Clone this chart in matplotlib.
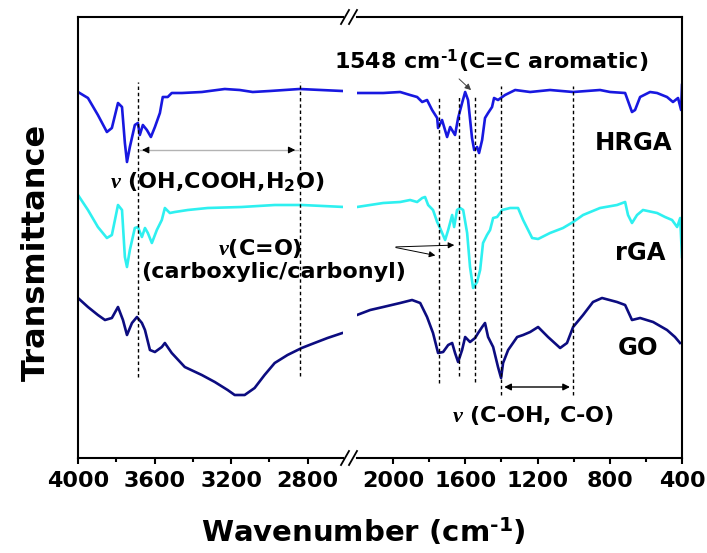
import matplotlib
matplotlib.use("Agg")
import matplotlib.pyplot as plt
from matplotlib.lines import Line2D

plt.rcParams['font.family'] = ['DejaVu Sans']
plt.rcParams['font.weight'] = 'bold'
plt.rcParams['mathtext.fontset'] = 'custom'
plt.rcParams['mathtext.rm'] = 'DejaVu Sans:bold'
plt.rcParams['mathtext.bf'] = 'DejaVu Sans:bold'
plt.rcParams['mathtext.it'] = 'Liberation Serif:italic'

# FTIR spectra (transmittance, arbitrary offset units)
hrga_wn = [4000, 3948, 3896, 3849, 3823, 3791, 3770, 3755, 3744, 3729, 3703, 3687, 3677, 3661, 3640,
           3619, 3598, 3572, 3557, 3531, 3510, 3457, 3353, 3233, 3155, 3087, 2998, 2842, 2618,
           2200, 2055, 1961, 1906, 1867, 1839, 1812, 1784, 1756, 1751, 1729, 1701, 1684, 1657, 1640,
           1618, 1601, 1585, 1563, 1551, 1535, 1524, 1507, 1491, 1474, 1452, 1441, 1419, 1380, 1324,
           1241, 1131, 1003, 854, 798, 715, 677, 660, 632, 577, 538, 483, 450, 422, 405, 400]
hrga_t = [366, 360, 343, 326, 330, 355, 351, 315, 296, 311, 333, 335, 323, 333, 328,
          321, 331, 345, 361, 361, 365, 365, 366, 369, 368, 366, 367, 369, 367,
          365, 365, 366, 363, 361, 356, 358, 348, 340, 330, 338, 321, 331, 323, 340,
          355, 366, 358, 320, 308, 311, 305, 318, 340, 345, 351, 360, 358, 363, 368,
          366, 368, 366, 368, 366, 365, 346, 348, 361, 366, 365, 361, 356, 360, 348, 373]

rga_wn = [4000, 3948, 3896, 3849, 3823, 3791, 3770, 3755, 3744, 3729, 3703, 3687, 3666, 3650, 3635,
          3614, 3588, 3562, 3546, 3520, 3494, 3426, 3322, 3145, 2972, 2831, 2607,
          2200, 2055, 1961, 1906, 1867, 1839, 1823, 1806, 1779, 1756, 1740, 1712, 1695, 1673, 1662,
          1646, 1629, 1612, 1590, 1574, 1557, 1535, 1518, 1502, 1480, 1463, 1446, 1424, 1396, 1352,
          1308, 1280, 1230, 1197, 1131, 1059, 1003, 948, 854, 760, 715, 699, 677, 649, 616, 538,
          494, 455, 427, 410, 400]
rga_t = [263, 248, 231, 220, 223, 253, 248, 201, 191, 208, 230, 231, 221, 230, 225,
         215, 228, 238, 250, 245, 246, 248, 250, 251, 253, 253, 251,
         251, 255, 256, 258, 256, 260, 261, 253, 248, 236, 230, 218, 228, 243, 231,
         248, 250, 248, 225, 191, 170, 176, 188, 215, 223, 228, 240, 241, 248, 250,
         250, 238, 220, 219, 225, 230, 236, 243, 250, 253, 256, 243, 235, 243, 248, 245,
         241, 238, 231, 240, 201]

go_wn = [4000, 3948, 3896, 3859, 3823, 3791, 3765, 3744, 3718, 3692, 3666, 3650, 3624, 3598, 3562,
         3546, 3510, 3442, 3353, 3285, 3218, 3181, 3129, 3077, 3025, 2972, 2905, 2831, 2764, 2696, 2618,
         2200, 2127, 2055, 1961, 1895, 1850, 1812, 1779, 1751, 1723, 1695, 1673, 1657, 1640, 1618,
         1601, 1574, 1546, 1529, 1507, 1491, 1474, 1446, 1419, 1402, 1391, 1363, 1313, 1280, 1241,
         1197, 1142, 1075, 1037, 1003, 948, 893, 843, 760, 715, 677, 632, 560, 483, 439, 411]
go_t = [160, 151, 143, 138, 140, 151, 138, 123, 135, 141, 135, 128, 108, 106, 111,
        115, 105, 91, 83, 76, 68, 63, 63, 70, 83, 95, 103, 110, 115, 120, 125,
        143, 148, 151, 155, 158, 155, 141, 125, 105, 106, 113, 115, 105, 96, 108,
        121, 116, 120, 125, 131, 135, 121, 111, 91, 80, 95, 108, 121, 123, 126,
        131, 121, 110, 115, 131, 143, 156, 160, 156, 153, 138, 140, 136, 128, 121, 115]

series = [("HRGA", hrga_wn, hrga_t, "#1818e0"),
          ("rGA", rga_wn, rga_t, "#2ef0f0"),
          ("GO", go_wn, go_t, "#0c0c80")]

# dashed guide lines: (wavenumber, bottom, top)
guides_hi = [(3687, 81, 376), (2842, 82, 376)]
guides_lo = [(1745, 75, 361), (1635, 82, 363), (1548, 76, 361), (1402, 63, 372), (1003, 63, 372)]

W, H = 707, 553
fig = plt.figure(figsize=(W / 100, H / 100), dpi=100)

def frac(x0, y0, x1, y1):
    return [x0 / W, 1 - y1 / H, (x1 - x0) / W, (y1 - y0) / H]

ax1 = fig.add_axes(frac(78, 17, 343, 458))
ax2 = fig.add_axes(frac(357, 17, 682, 458))

for ax in (ax1, ax2):
    for name, wn, t, c in series:
        ax.plot(wn, t, color=c, lw=1.9)
    ax.set_ylim(0, 441)
    ax.set_yticks([])
    for s in ax.spines.values():
        s.set_linewidth(1.5)
    ax.tick_params(axis='x', which='major', direction='out', length=4.5, width=1.5,
                   labelsize=16, pad=5)
    ax.tick_params(axis='x', which='minor', direction='out', length=3, width=1.5)

ax1.set_xlim(4000, 2615)
ax1.set_xticks([4000, 3600, 3200, 2800])
ax1.set_xticks([3800, 3400, 3000], minor=True)
ax1.spines['right'].set_visible(False)

ax2.set_xlim(2200, 400)
ax2.set_xticks([2000, 1600, 1200, 800, 400])
ax2.set_xticks([1800, 1400, 1000, 600], minor=True)
ax2.spines['left'].set_visible(False)

for wn, y0, y1 in guides_hi:
    ax1.vlines(wn, y0, y1, colors='black', linestyles=(0, (2.5, 2)), lw=1)
for wn, y0, y1 in guides_lo:
    ax2.vlines(wn, y0, y1, colors='black', linestyles=(0, (2.5, 2)), lw=1)

# break marks
for cx in (345, 353):
    for cy in (17, 458):
        fig.add_artist(Line2D([(cx - 4) / W, (cx + 4) / W], [1 - (cy + 7) / H, 1 - (cy - 7) / H],
                              color='black', lw=1.3))

# arrows
ax1.plot([3677, 2852], [308, 308], color='0.7', lw=1)
ax1.annotate('', xy=(3680, 308), xytext=(3630, 308),
             arrowprops=dict(arrowstyle='-|>', color='black', lw=0.8, mutation_scale=10))
ax1.annotate('', xy=(2850, 308), xytext=(2900, 308),
             arrowprops=dict(arrowstyle='-|>', color='black', lw=0.8, mutation_scale=10))
ax2.annotate('', xy=(1400, 71), xytext=(1005, 71),
             arrowprops=dict(arrowstyle='<|-|>', color='black', lw=1, mutation_scale=10))
ax2.annotate('', xy=(1751, 202), xytext=(2000, 211),
             arrowprops=dict(arrowstyle='-|>', color='black', lw=0.7, mutation_scale=9))
ax2.annotate('', xy=(1646, 213), xytext=(2000, 211),
             arrowprops=dict(arrowstyle='-|>', color='black', lw=0.7, mutation_scale=9))
ax2.annotate('', xy=(1557, 366), xytext=(1646, 381),
             arrowprops=dict(arrowstyle='-|>', color='0.25', lw=0.7, mutation_scale=9))

def ftext(px, py, s, **kw):
    fig.text(px / W, 1 - py / H, s, **kw)

ftext(491, 68, r'1548 cm$^{\text{-}\mathbf{1}}$(C=C aromatic)', fontsize=16, ha='center', va='baseline')
ftext(217, 188, r'$\nu$ (OH,COOH,H$_{\mathbf{2}}$O)', fontsize=16, ha='center', va='baseline')
ftext(260, 255, r'$\nu$(C=O)', fontsize=16, ha='center', va='baseline')
ftext(274, 278, '(carboxylic/carbonyl)', fontsize=16, ha='center', va='baseline')
ftext(533, 422, r'$\nu$ (C-OH, C-O)', fontsize=16, ha='center', va='baseline')
ftext(634, 150, 'HRGA', fontsize=17.5, ha='center', va='baseline')
ftext(640, 260, 'rGA', fontsize=17.5, ha='center', va='baseline')
ftext(638, 355, 'GO', fontsize=17.5, ha='center', va='baseline')

ftext(363, 542, r'Wavenumber (cm$^{\text{-}\mathbf{1}}$)', fontsize=21, ha='center', va='baseline')
ftext(36, 252, 'Transmittance', fontsize=23, ha='center', va='center', rotation=90)

fig.savefig('out.png', dpi=100)
